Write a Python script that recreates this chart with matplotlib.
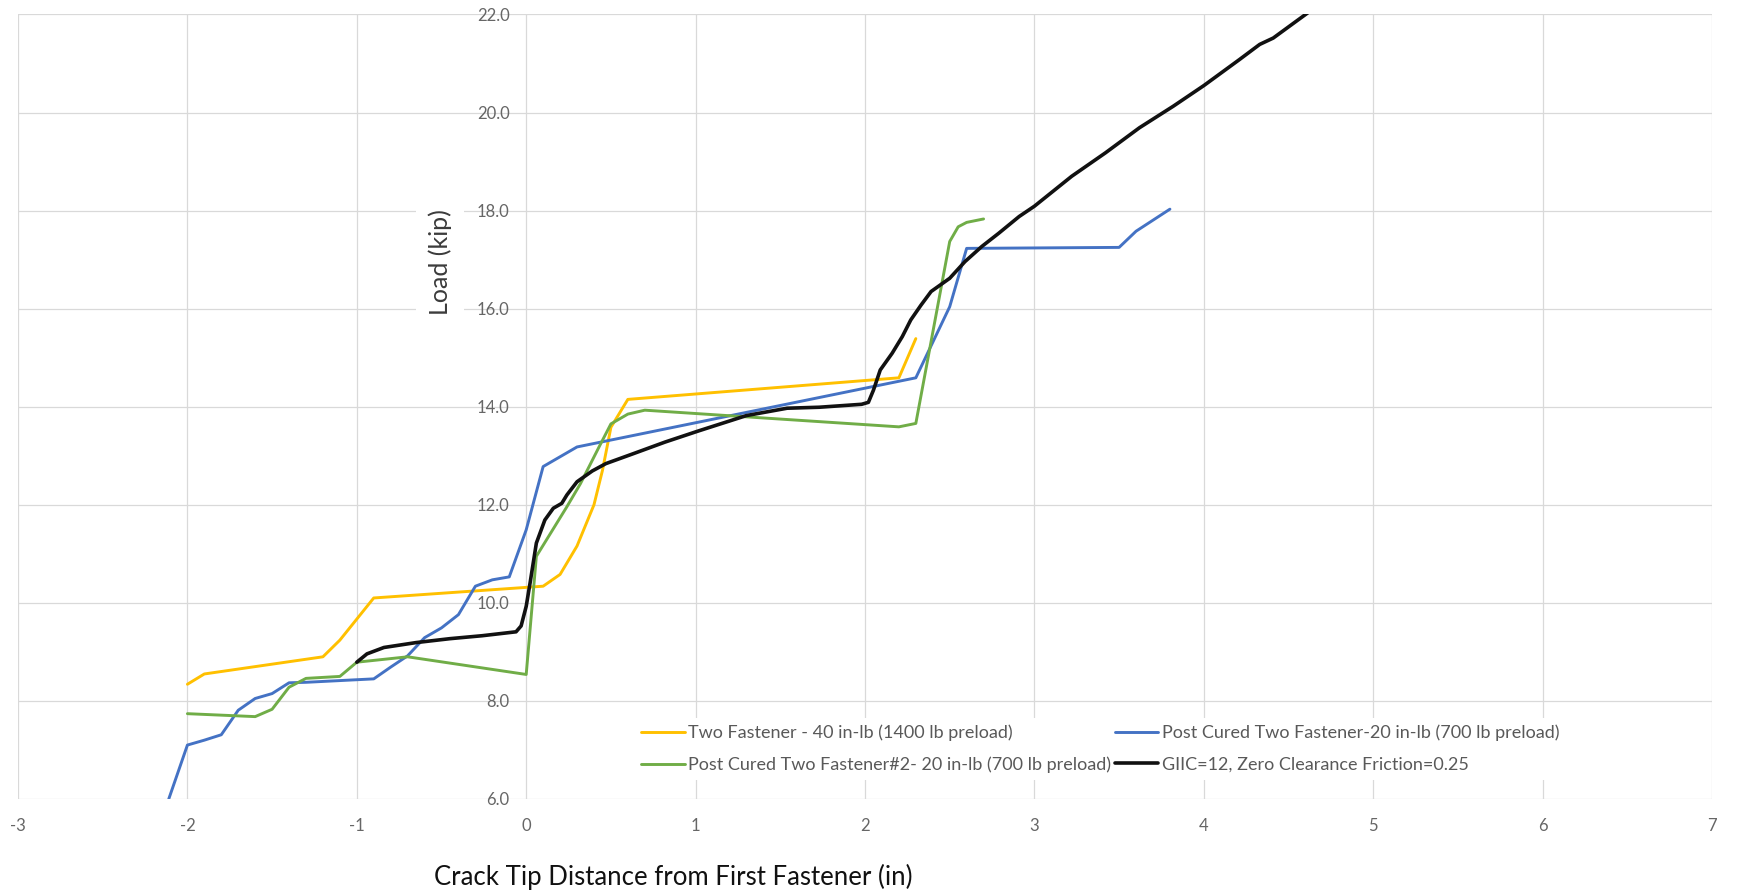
import numpy as np
import matplotlib
matplotlib.use("Agg")
import matplotlib.pyplot as plt

plt.rcParams['font.family'] = ['Lato', 'DejaVu Sans']
plt.rcParams['axes.unicode_minus'] = False

# ---- data ----
labels = [
    "Two Fastener - 40 in-lb (1400 lb preload)",
    "Post Cured Two Fastener-20 in-lb (700 lb preload)",
    "Post Cured Two Fastener#2- 20 in-lb (700 lb preload)",
    "GIIC=12, Zero Clearance Friction=0.25",
]

yellow_x = [-2.0, -1.9, -1.2, -1.1, -0.9, 0.1, 0.2, 0.3, 0.4, 0.45, 0.5, 0.6, 2.2, 2.3]
yellow_y = [8.34, 8.55, 8.9, 9.24, 10.1, 10.34, 10.58, 11.16, 12.0, 12.7, 13.58, 14.15, 14.59, 15.39]

blue_x = [-2.11, -2.0, -1.9, -1.8, -1.7, -1.6, -1.5, -1.4, -1.3, -0.9, -0.8, -0.7, -0.6,
          -0.5, -0.4, -0.3, -0.2, -0.1, 0.0, 0.1, 0.3, 2.3, 2.5, 2.6, 3.5, 3.6, 3.8]
blue_y = [6.0, 7.1, 7.2, 7.31, 7.81, 8.05, 8.15, 8.37, 8.38, 8.45, 8.69, 8.92, 9.29,
          9.49, 9.76, 10.34, 10.47, 10.53, 11.49, 12.78, 13.18, 14.59, 16.04, 17.23, 17.25, 17.58, 18.03]

green_x = [-2.0, -1.6, -1.5, -1.4, -1.3, -1.1, -1.0, -0.7, 0.0, 0.06, 0.24, 0.32, 0.43,
           0.5, 0.6, 0.7, 2.2, 2.3, 2.5, 2.55, 2.6, 2.7]
green_y = [7.74, 7.68, 7.83, 8.28, 8.46, 8.5, 8.79, 8.9, 8.54, 10.95, 11.96, 12.43, 13.18,
           13.65, 13.85, 13.93, 13.59, 13.66, 17.37, 17.67, 17.76, 17.83]

black_x = [-1.0, -0.94, -0.84, -0.65, -0.45, -0.26, -0.06, -0.03, 0.0, 0.023, 0.06, 0.11,
           0.16, 0.21, 0.24, 0.30, 0.39, 0.47, 0.63, 0.82, 1.02, 1.30, 1.54, 1.73, 1.98,
           2.02, 2.05, 2.09, 2.16, 2.22, 2.27, 2.33, 2.39, 2.50, 2.59, 2.69, 2.79, 2.91,
           3.0, 3.22, 3.42, 3.62, 3.82, 4.0, 4.21, 4.33, 4.41, 4.62]
black_y = [8.79, 8.96, 9.09, 9.19, 9.27, 9.33, 9.41, 9.53, 9.93, 10.41, 11.22, 11.69,
           11.93, 12.03, 12.2, 12.47, 12.69, 12.84, 13.04, 13.28, 13.51, 13.82, 13.97, 13.99, 14.05,
           14.09, 14.34, 14.75, 15.09, 15.43, 15.77, 16.07, 16.35, 16.62, 16.96, 17.27, 17.54, 17.88,
           18.09, 18.70, 19.18, 19.69, 20.13, 20.55, 21.08, 21.39, 21.52, 22.05]

x_ticks = list(range(-3, 8))
y_ticks = [6, 8, 10, 12, 14, 16, 18, 20, 22]
x_label = "Crack Tip Distance from First Fastener (in)"
y_label = "Load (kip)"

colors = ['#FFC000', '#4472C4', '#70AD47', '#111111']

# ---- figure ----
fig = plt.figure(figsize=(17.43, 8.91), dpi=100)
ax = fig.add_axes([0.01033, 0.10326, 0.97189, 0.88047])
ax.set_xlim(-3, 7)
ax.set_ylim(6, 22)
ax.set_xticks(x_ticks)
ax.set_xticklabels([str(t) for t in x_ticks])
ax.set_yticks(y_ticks)
ax.set_yticklabels([f"{t:.1f}" for t in y_ticks])

for name, sp in ax.spines.items():
    if name == 'left':
        sp.set_position(('data', 0))
        sp.set_color('none')
    else:
        sp.set_visible(False)

ax.grid(True, color='#d9d9d9', lw=0.9)
ax.set_axisbelow(True)
ax.tick_params(axis='both', length=0, labelsize=12, labelcolor='#666666')
ax.tick_params(axis='x', pad=14)
ax.tick_params(axis='y', pad=12)

series = [(yellow_x, yellow_y), (blue_x, blue_y), (green_x, green_y), (black_x, black_y)]
handles = []
for (xs, ys), c, lab in zip(series, colors, labels):
    lw = 2.6 if c == '#111111' else 2.1
    h, = ax.plot(xs, ys, color=c, lw=lw, label=lab, solid_capstyle='round',
                 solid_joinstyle='round')
    handles.append(h)

order = [0, 2, 1, 3]
leg = ax.legend([handles[i] for i in order], [labels[i] for i in order], ncol=2,
                loc='center', bbox_to_anchor=(0.639, 0.0637), fontsize=13,
                frameon=True, facecolor='white', edgecolor='none', framealpha=1,
                handlelength=2.4, handletextpad=0.2, columnspacing=0.2,
                labelspacing=0.85, borderpad=0.4)
for t in leg.get_texts():
    t.set_color('#595959')

ax.set_xlabel(x_label, fontsize=18.5, color='#111111')
ax.xaxis.label.set_va('center')
ax.xaxis.label.set_ha('center')
ax.xaxis.set_label_coords(0.387, -0.0994)

ax.set_ylabel(y_label, fontsize=18, color='#3b3b3b',
              bbox=dict(facecolor='white', edgecolor='none', pad=9))
ax.yaxis.label.set_va('center')
ax.yaxis.set_label_coords(0.249, 0.684)

fig.savefig("out.png", dpi=100)
